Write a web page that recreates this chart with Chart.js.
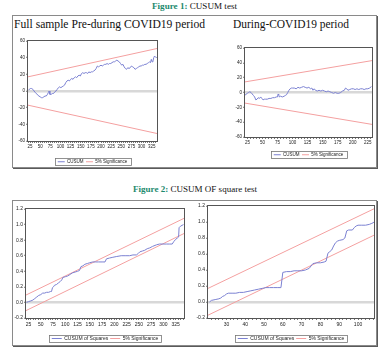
<!DOCTYPE html>
<html><head><meta charset="utf-8">
<script src="https://cdn.jsdelivr.net/npm/chart.js@4.4.1/dist/chart.umd.min.js"></script>
<style>
html,body{margin:0;padding:0;background:#fff;width:384px;height:354px;overflow:hidden;position:relative}
.frame{position:absolute;border:1px solid #8a8a8a;box-shadow:1px 1px 0 #5a5a5a;box-sizing:border-box}
.cap{position:absolute;font-family:'Liberation Serif','Times New Roman',serif;font-size:9px;line-height:9px;white-space:nowrap;color:#111;transform-origin:0 0}
.cap b{color:#1d8a6e}
.ttl{position:absolute;font-family:'Liberation Serif','Times New Roman',serif;font-size:12.5px;line-height:12.5px;white-space:nowrap;color:#111;transform-origin:0 0}
canvas{position:absolute}
</style></head><body>
<div class="cap" id="cap1" data-w="85" style="left:152px;top:2px"><b>Figure 1:</b> CUSUM test</div>
<div class="frame" style="left:12px;top:15px;width:365px;height:153px"></div>
<div class="ttl" data-w="191" style="left:14px;top:17.5px">Full sample Pre-during COVID19 period</div>
<div class="ttl" data-w="116" style="left:233px;top:17.5px">During-COVID19 period</div>
<div class="cap" id="cap2" data-w="124" style="left:133px;top:185px"><b>Figure 2:</b> CUSUM OF square test</div>
<div class="frame" style="left:12px;top:200px;width:365px;height:146px"></div>
<canvas id="c1"></canvas>
<canvas id="c2"></canvas>
<canvas id="c3"></canvas>
<canvas id="c4"></canvas>
<script>
// ---------- DATA ----------
const cusumLabels = ['CUSUM', '5% Significance'];
const cusumsqLabels = ['CUSUM of Squares', '5% Significance'];

const cusumYTicks = [-60, -40, -20, 0, 20, 40, 60];
const cusumsqYTicks = [-0.2, 0.0, 0.2, 0.4, 0.6, 0.8, 1.0, 1.2];
const fullXLabels = [25, 50, 75, 100, 125, 150, 175, 200, 225, 250, 275, 300, 325];
const duringXLabels = [25, 50, 75, 100, 125, 150, 175, 200, 225];
const sqDuringXLabels = [30, 40, 50, 60, 70, 80, 90, 100];

// Figure 1, left: full sample CUSUM
const cusumFull = [[21,1],[23,2],[26,3],[29,3],[32,2],[35,0],[38,-2],[41,-3],[44,-5],[47,-6],[50,-7],[53,-8],[56,-8],[59,-7],[62,-6],[65,-6],[68,-4],[70,-2],[72,0],[74,-4],[77,-4],[80,-3],[83,-3],[86,-1],[89,0],[92,2],[95,4],[98,5],[101,4],[104,5],[107,6],[110,7],[113,10],[116,12],[119,13],[122,12],[125,14],[128,15],[131,14],[134,16],[137,17],[140,16],[143,18],[146,19],[149,18],[152,21],[155,22],[158,21],[161,22],[164,22],[167,21],[170,23],[173,22],[176,23],[179,23],[182,24],[185,25],[188,27],[191,30],[194,29],[197,30],[200,31],[203,30],[206,31],[209,32],[212,32],[215,33],[218,32],[221,33],[224,33],[227,34],[230,35],[233,35],[236,36],[239,37],[242,36],[245,35],[248,33],[251,31],[254,32],[257,29],[260,27],[263,26],[266,28],[269,27],[272,28],[275,30],[278,29],[281,28],[284,26],[287,27],[290,28],[293,29],[296,30],[299,30],[302,31],[305,31],[308,32],[311,32],[314,33],[317,34],[320,35],[322,34],[324,38],[326,35],[328,36],[330,40],[332,42],[334,41],[336,40],[338,41]];
const cusumFullUpper = [[20,17],[338,51]];
const cusumFullLower = [[20,-17],[338,-51]];

// Figure 1, right: during COVID19 CUSUM
const cusumDuring = [[21,-4],[23,-2],[25,-1],[27,0],[29,1],[31,0],[33,-2],[35,-4],[37,-6],[39,-10],[41,-9],[43,-7],[45,-8],[47,-6],[49,-8],[51,-10],[53,-9],[55,-9],[58,-9],[61,-8],[64,-8],[67,-7],[70,-7],[73,-6],[75,-6],[76,-2],[77,-3],[78,-6],[80,-5],[83,-6],[86,-5],[88,-4],[90,-3],[92,0],[94,3],[96,5],[98,6],[100,6],[103,6],[106,5],[109,7],[112,6],[115,7],[118,8],[121,7],[124,6],[127,7],[130,5],[132,6],[134,3],[136,5],[138,3],[141,2],[144,3],[147,2],[150,3],[153,2],[156,1],[159,2],[162,1],[165,0],[168,-1],[171,0],[174,-1],[177,-1],[180,0],[183,2],[186,3],[188,6],[190,5],[192,3],[195,4],[198,5],[201,5],[204,4],[207,5],[210,4],[213,5],[216,5],[219,4],[222,5],[225,5],[228,6],[231,8]];
const cusumDuringUpper = [[21,14.3],[232,43]];
const cusumDuringLower = [[21,-14.3],[232,-43]];

// Figure 2, left: full sample CUSUM of squares
const cusumsqFull = [[21,0.00],[25,0.01],[30,0.02],[34,0.03],[38,0.05],[42,0.07],[46,0.09],[50,0.10],[54,0.12],[58,0.12],[62,0.13],[66,0.13],[70,0.14],[72,0.14],[74,0.19],[76,0.20],[78,0.22],[82,0.23],[86,0.25],[90,0.27],[93,0.29],[95,0.32],[100,0.33],[105,0.34],[110,0.36],[115,0.38],[120,0.39],[125,0.40],[129,0.41],[132,0.46],[136,0.47],[140,0.49],[145,0.50],[150,0.51],[156,0.52],[162,0.52],[168,0.52],[175,0.52],[181,0.52],[184,0.56],[190,0.57],[197,0.58],[205,0.59],[214,0.60],[222,0.60],[231,0.60],[238,0.61],[245,0.61],[249,0.63],[252,0.65],[257,0.66],[262,0.67],[267,0.69],[272,0.70],[278,0.72],[286,0.74],[292,0.75],[299,0.75],[306,0.75],[313,0.75],[318,0.75],[321,0.78],[325,0.81],[329,0.83],[331,0.84],[332,0.96],[335,0.98],[338,0.99],[341,1.00]];
const cusumsqFullUpper = [[20,0.095],[342,1.08]];
const cusumsqFullLower = [[20,-0.105],[342,0.885]];

// Figure 2, right: during COVID19 CUSUM of squares
const cusumsqDuring = [[21,0.00],[22,0.02],[24,0.03],[26,0.04],[27,0.05],[28,0.07],[29,0.08],[30,0.10],[31,0.11],[33,0.11],[35,0.11],[37,0.12],[39,0.12],[41,0.13],[43,0.14],[45,0.15],[47,0.16],[49,0.17],[51,0.18],[53,0.18],[55,0.18],[57,0.18],[59,0.18],[60,0.37],[62,0.38],[64,0.38],[66,0.39],[68,0.39],[70,0.39],[72,0.40],[74,0.42],[75,0.45],[76,0.48],[78,0.49],[80,0.49],[82,0.50],[83,0.51],[84,0.61],[85,0.63],[86,0.65],[87,0.70],[88,0.74],[89,0.76],[90,0.77],[92,0.78],[93,0.80],[94,0.89],[95,0.90],[97,0.90],[98,0.93],[99,0.95],[100,0.96],[102,0.96],[104,0.96],[106,0.97],[107,0.98],[108,0.99],[108.5,1.00]];
const cusumsqDuringUpper = [[20.2,0.17],[108.5,1.165]];
const cusumsqDuringLower = [[20.2,-0.165],[108.5,0.835]];

// ---------- STYLE / LAYOUT ----------
const BLUE = '#7b81d2', RED = '#f4a0a0', AXIS = '#555', ZERO = '#d8d8d8';
const FONT = "'Liberation Sans Narrow','Arial Narrow','Liberation Sans',Arial,sans-serif";
Chart.defaults.color = '#222';
Chart.defaults.font.family = FONT;

// fit HTML titles to widths
document.querySelectorAll('[data-w]').forEach(el => {
  const w = el.getBoundingClientRect().width;
  el.style.transform = 'scaleX(' + (parseFloat(el.dataset.w) / w) + ')';
});

const framePlugin = {
  id: 'frame',
  afterDatasetsDraw(chart) {
    const {ctx, chartArea: a} = chart;
    ctx.save();
    ctx.strokeStyle = AXIS; ctx.lineWidth = 1;
    ctx.strokeRect(a.left - 0.5, a.top - 0.5, a.right - a.left + 1, a.bottom - a.top + 1);
    ctx.restore();
  },
  afterDraw(chart) {
    const lg = chart.legend;
    if (!lg || !lg.legendHitBoxes || !lg.legendHitBoxes.length) return;
    const hb = lg.legendHitBoxes;
    const x0 = Math.min(...hb.map(h => h.left)) - 3;
    const x1 = Math.max(...hb.map(h => h.left + h.width)) + 3;
    const y0 = hb[0].top - 1.2, y1 = hb[0].top + hb[0].height + 1.2;
    const ctx = chart.ctx;
    ctx.save(); ctx.strokeStyle = '#777'; ctx.lineWidth = 0.8;
    ctx.strokeRect(Math.round(x0) + 0.5, Math.round(y0) + 0.5, Math.round(x1 - x0), Math.round(y1 - y0));
    ctx.restore();
  }
};

function build(id, g, series, labels, upper, lower, xr, yTicks, xLabels, fmt) {
  const cv = document.getElementById(id);
  const LH = g.lf + g.lp + 10;
  const W = g.yw + (g.R - g.L) + g.pr;
  const H = g.pt + (g.B - g.T) + g.xh + LH;
  cv.width = W; cv.height = H;
  cv.style.left = (g.L - g.yw) + 'px'; cv.style.top = (g.T - g.pt) + 'px';
  cv.style.width = W + 'px'; cv.style.height = H + 'px';
  const line = (label, data, color) => ({label, data, borderColor: color, backgroundColor: color,
    borderWidth: 1, pointRadius: 0, tension: 0, fill: false});
  new Chart(cv, {
    type: 'line',
    data: {datasets: [line(labels[0], series, BLUE), line(labels[1], upper, RED), line(labels[1], lower, RED)]},
    options: {
      responsive: false, animation: false, devicePixelRatio: 1,
      layout: {padding: {top: g.pt, right: g.pr, left: 0, bottom: 0}},
      plugins: {
        tooltip: {enabled: false},
        legend: {
          position: 'bottom', fullSize: false,
          labels: {
            filter: it => it.datasetIndex < 2,
            usePointStyle: true, pointStyle: 'line', pointStyleWidth: g.lw,
            boxHeight: g.lf, padding: g.lp, color: '#222',
            font: {size: g.lf, family: FONT}
          }
        }
      },
      scales: {
        x: {
          type: 'linear', min: xr[0], max: xr[1],
          border: {display: false},
          grid: {drawOnChartArea: false, tickLength: 2, tickColor: AXIS, tickWidth: 0.8},
          ticks: {stepSize: xr[2], includeBounds: false, autoSkip: false, maxRotation: 0,
            padding: g.xp, font: {size: g.tf}, color: '#222',
            callback: v => xLabels.includes(Math.round(v * 1000) / 1000) ? String(v) : ''},
          afterFit: s => { s.height = g.xh; s.paddingLeft = 0; s.paddingRight = 0; }
        },
        y: {
          type: 'linear', min: yTicks[0], max: yTicks[yTicks.length - 1],
          border: {display: false},
          afterBuildTicks: s => { s.ticks = yTicks.map(v => ({value: v})); },
          grid: {
            color: c => (c.tick && Math.abs(c.tick.value) < 1e-9) ? ZERO : 'rgba(0,0,0,0)',
            lineWidth: 2.5, tickLength: 2, tickColor: AXIS, tickWidth: 0.8
          },
          ticks: {padding: 1, font: {size: g.tf}, color: '#222', callback: v => fmt(v)},
          afterFit: s => { s.width = g.yw; s.paddingTop = 0; s.paddingBottom = 0; }
        }
      }
    },
    plugins: [framePlugin]
  });
}

const intFmt = v => String(Math.round(v));
const decFmt = v => (Math.round(v * 10) / 10).toFixed(1);

build('c1', {L: 28, T: 41, R: 157, B: 141, yw: 18, pt: 8, pr: 10, xh: 16, lf: 4.5, lp: 2.5, lw: 7, tf: 4.5, xp: 1.5},
  cusumFull, cusumLabels, cusumFullUpper, cusumFullLower, [20, 338, 5], cusumYTicks, fullXLabels, intFmt);
build('c2', {L: 245, T: 48, R: 372, B: 137, yw: 18, pt: 8, pr: 4, xh: 13, lf: 4.5, lp: 2.5, lw: 7, tf: 4.5, xp: 1.5},
  cusumDuring, cusumLabels, cusumDuringUpper, cusumDuringLower, [21, 232, 5], cusumYTicks, duringXLabels, intFmt);
build('c3', {L: 26, T: 209, R: 184, B: 318, yw: 16, pt: 6, pr: 8, xh: 16, lf: 5, lp: 2, lw: 10, tf: 5, xp: 2},
  cusumsqFull, cusumsqLabels, cusumsqFullUpper, cusumsqFullLower, [20, 342, 5], cusumsqYTicks, fullXLabels, decFmt);
build('c4', {L: 208, T: 206, R: 374, B: 318, yw: 16, pt: 6, pr: 3, xh: 16, lf: 5, lp: 2, lw: 10, tf: 5, xp: 2},
  cusumsqDuring, cusumsqLabels, cusumsqDuringUpper, cusumsqDuringLower, [20.2, 108.5, 2], cusumsqYTicks, sqDuringXLabels, decFmt);
</script>
</body></html>
